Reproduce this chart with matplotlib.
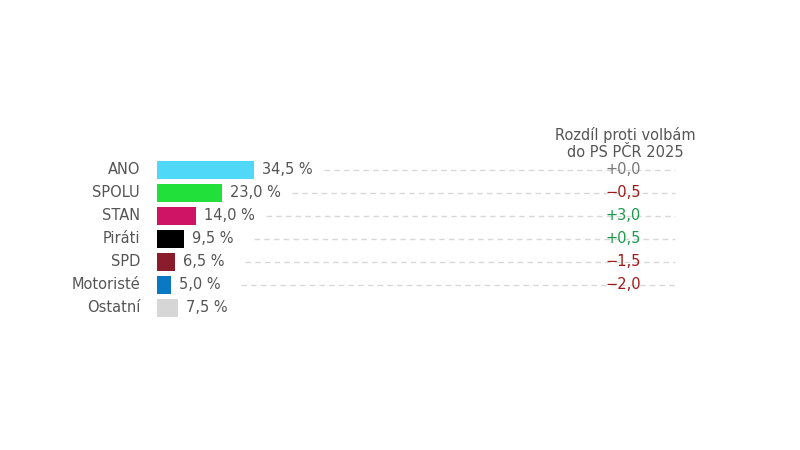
import matplotlib
matplotlib.use("Agg")
import matplotlib.pyplot as plt

parties = ["ANO", "SPOLU", "STAN", "Piráti", "SPD", "Motoristé", "Ostatní"]
values = [34.5, 23.0, 14.0, 9.5, 6.5, 5.0, 7.5]
diffs = ["+0,0", "−0,5", "+3,0", "+0,5", "−1,5", "−2,0", None]
colors = ["#4fd8f7", "#22e03a", "#cf1466", "#000000", "#8a1c2b", "#0a78c2", "#d6d6d6"]

fig = plt.figure(figsize=(8, 4.5), dpi=100)
pxpct = 2.81
ax = fig.add_axes([157/800, 0, 643/800, 1])
ax.set_xlim(0, 643/pxpct)
ax.set_ylim((450-170)/23, -170/23)
ax.axis("off")
grey = "#555555"
u = 1/pxpct
for i, (p, v, c) in enumerate(zip(parties, values, colors)):
    ax.barh(i, v, height=0.8, color=c)
    ax.text(-17*u, i, p, ha="right", va="center", fontsize=10.5, color=grey)
    ax.text(v + 8*u, i, f"{v:.1f} %".replace(".", ","), ha="left", va="center", fontsize=10.5, color=grey)
    d = diffs[i]
    if d is not None:
        ax.plot([v + 70*u, 518*u], [i, i], ls=(0, (4, 3)), color="#d8d8d8", lw=1)
        col = "#777777" if d in ("+0,0", "−0,0") else ("#a01818" if d.startswith("−") else "#1a9a4a")
        ax.text(466*u, i, d, ha="center", va="center", fontsize=10.5, color=col)
ax.text(468*u, (135-170)/23, "Rozdíl proti volbám", ha="center", va="center", fontsize=10.5, color=grey)
ax.text(468*u, (153-170)/23, "do PS PČR 2025", ha="center", va="center", fontsize=10.5, color=grey)
fig.savefig("out.png")
